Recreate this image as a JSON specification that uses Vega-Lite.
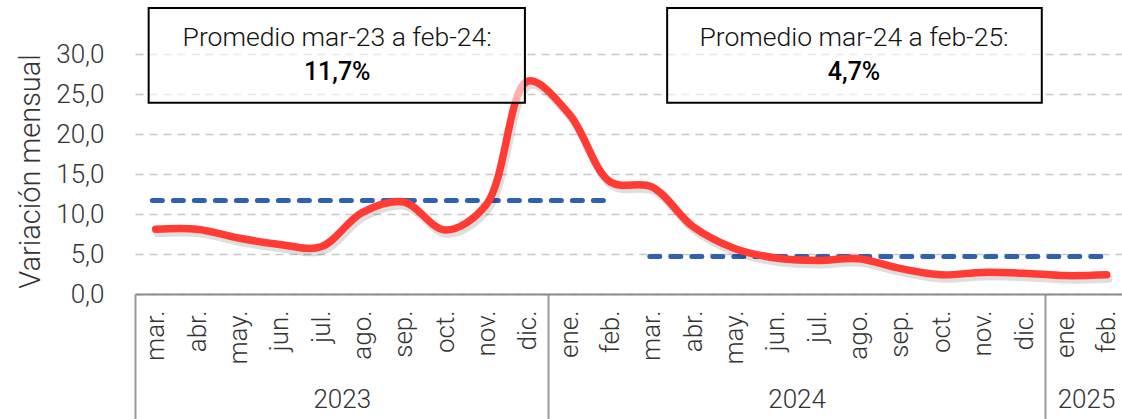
{
  "$schema": "https://vega.github.io/schema/vega-lite/v6.json",
  "autosize": {"type": "none"},
  "padding": {"left": 135, "top": 0, "right": 0, "bottom": 125},
  "width": 987,
  "height": 294,
  "background": "white",
  "config": {"view": {"stroke": null}, "font": "Roboto"},
  "datasets": {
    "serie": [
      {"x": 0.5, "v": 8.1}, {"x": 1.5, "v": 8.1}, {"x": 2.5, "v": 7.0}, {"x": 3.5, "v": 6.2},
      {"x": 4.5, "v": 5.9}, {"x": 5.5, "v": 10.2}, {"x": 6.5, "v": 11.5}, {"x": 7.5, "v": 8.0},
      {"x": 8.5, "v": 11.2}, {"x": 9.5, "v": 26.6}, {"x": 10.5, "v": 22.5}, {"x": 11.5, "v": 14.0},
      {"x": 12.5, "v": 13.4}, {"x": 13.5, "v": 8.4}, {"x": 14.5, "v": 5.7}, {"x": 15.5, "v": 4.5},
      {"x": 16.5, "v": 4.2}, {"x": 17.5, "v": 4.4}, {"x": 18.5, "v": 3.2}, {"x": 19.5, "v": 2.4},
      {"x": 20.5, "v": 2.7}, {"x": 21.5, "v": 2.6}, {"x": 22.5, "v": 2.3}, {"x": 23.5, "v": 2.4}
    ],
    "prom": [
      {"x": 0.42, "v": 11.7, "g": "a"}, {"x": 11.45, "v": 11.7, "g": "a"},
      {"x": 12.45, "v": 4.7, "g": "b"}, {"x": 23.45, "v": 4.7, "g": "b"}
    ],
    "cajas": [
      {"x1": 0.33, "x2": 9.43, "y1": 23.9, "y2": 35.75},
      {"x1": 12.87, "x2": 21.93, "y1": 23.9, "y2": 35.75}
    ],
    "linea1": [
      {"x": 4.89, "y": 32.0, "t": "Promedio mar-23 a feb-24:"},
      {"x": 17.39, "y": 32.0, "t": "Promedio mar-24 a feb-25:"}
    ],
    "linea2": [
      {"x": 4.89, "y": 27.75, "t": "11,7%"},
      {"x": 17.39, "y": 27.75, "t": "4,7%"}
    ]
  },
  "resolve": {"axis": {"x": "independent", "y": "independent"}},
  "layer": [
    {
      "data": {"name": "prom"},
      "mark": {"type": "line", "stroke": "#3060B0", "strokeWidth": 5, "strokeDash": [10, 11], "strokeCap": "round"},
      "encoding": {
        "x": {"field": "x", "type": "quantitative", "scale": {"domain": [0, 23.87], "nice": false, "zero": false},
          "axis": {"orient": "bottom", "values": [0, 10, 22], "labels": false, "ticks": true, "tickSize": 125, "tickColor": "#999999", "tickWidth": 2, "domain": false, "grid": false, "title": null}},
        "y": {"field": "v", "type": "quantitative", "scale": {"domain": [0, 36.75], "nice": false}, "axis": null},
        "detail": {"field": "g"}
      }
    },
    {
      "data": {"name": "serie"},
      "mark": {"type": "line", "stroke": "#000000", "strokeOpacity": 0.13, "strokeWidth": 8, "interpolate": "catmull-rom", "strokeCap": "round", "xOffset": 2, "yOffset": 4},
      "encoding": {
        "x": {"field": "x", "type": "quantitative", "scale": {"domain": [0, 23.87], "nice": false, "zero": false}, "axis": null},
        "y": {"field": "v", "type": "quantitative", "scale": {"domain": [0, 36.75], "nice": false}, "axis": null}
      }
    },
    {
      "data": {"name": "serie"},
      "mark": {"type": "line", "stroke": "#FF3B33", "strokeWidth": 7.5, "interpolate": "catmull-rom", "strokeCap": "round"},
      "encoding": {
        "x": {"field": "x", "type": "quantitative", "scale": {"domain": [0, 23.87], "nice": false, "zero": false},
          "axis": {"orient": "bottom", "values": [0.5,1.5,2.5,3.5,4.5,5.5,6.5,7.5,8.5,9.5,10.5,11.5,12.5,13.5,14.5,15.5,16.5,17.5,18.5,19.5,20.5,21.5,22.5,23.5],
            "labelExpr": "['mar.','abr.','may.','jun.','jul.','ago.','sep.','oct.','nov.','dic.','ene.','feb.'][floor(datum.value) % 12]",
            "labelAngle": -90, "labelAlign": "right", "labelBaseline": "middle", "labelPadding": 16,
            "labelFontSize": 26, "labelFontWeight": 300, "labelColor": "#333333", "labelFont": "Roboto",
            "ticks": false, "domain": true, "domainColor": "#8c8c8c", "domainWidth": 2, "grid": false, "title": null, "labelOverlap": false, "labelFlush": false}},
        "y": {"field": "v", "type": "quantitative", "scale": {"domain": [0, 36.75], "nice": false},
          "axis": {"orient": "left", "values": [0, 5, 10, 15, 20, 25, 30],
            "labelExpr": "replace(format(datum.value, '.1f'), '.', ',')",
            "labelFontSize": 26, "labelFontWeight": 300, "labelColor": "#333333", "labelFont": "Roboto", "labelPadding": 31,
            "domain": false, "ticks": false, "grid": true, "gridColor": "#c8c8c8", "gridDash": [8, 6], "gridWidth": 1.5,
            "title": "Variación mensual", "titleFontSize": 29, "titleFontWeight": 300, "titleColor": "#333333", "titleFont": "Roboto",
            "titleAnchor": "middle", "titleY": 171, "titleX": -105, "titleBaseline": "middle", "titleAngle": -90}}
      }
    },
    {
      "data": {"name": "cajas"},
      "mark": {"type": "rect", "fill": "white", "fillOpacity": 0.6, "stroke": "black", "strokeWidth": 2},
      "encoding": {
        "x": {"field": "x1", "type": "quantitative", "scale": {"domain": [0, 23.87], "nice": false, "zero": false},
          "axis": {"orient": "bottom", "values": [5, 16, 23],
            "labelExpr": "datum.value < 10 ? '2023' : datum.value < 22 ? '2024' : '2025'",
            "labelFontSize": 26, "labelFontWeight": 300, "labelColor": "#333333", "labelFont": "Roboto",
            "labelBaseline": "top", "offset": 92, "labelPadding": 0, "ticks": false, "domain": false, "grid": false, "title": null, "labelFlush": false}},
        "x2": {"field": "x2"},
        "y": {"field": "y1", "type": "quantitative", "scale": {"domain": [0, 36.75], "nice": false}, "axis": null},
        "y2": {"field": "y2"}
      }
    },
    {
      "data": {"name": "linea1"},
      "mark": {"type": "text", "fontSize": 26.5, "fontWeight": 300, "font": "Roboto", "color": "#111111", "baseline": "middle", "align": "center"},
      "encoding": {
        "x": {"field": "x", "type": "quantitative", "scale": {"domain": [0, 23.87], "nice": false, "zero": false}, "axis": null},
        "y": {"field": "y", "type": "quantitative", "scale": {"domain": [0, 36.75], "nice": false}, "axis": null},
        "text": {"field": "t"}
      }
    },
    {
      "data": {"name": "linea2"},
      "mark": {"type": "text", "fontSize": 25, "fontWeight": 500, "font": "Roboto", "color": "#000000", "baseline": "middle", "align": "center"},
      "encoding": {
        "x": {"field": "x", "type": "quantitative", "scale": {"domain": [0, 23.87], "nice": false, "zero": false}, "axis": null},
        "y": {"field": "y", "type": "quantitative", "scale": {"domain": [0, 36.75], "nice": false}, "axis": null},
        "text": {"field": "t"}
      }
    }
  ]
}
